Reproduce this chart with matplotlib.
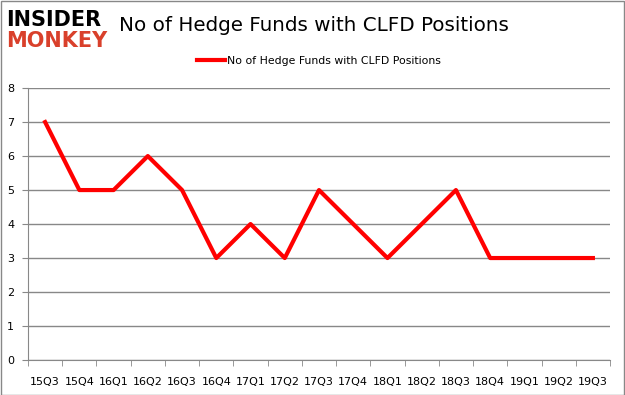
import matplotlib.pyplot as plt
from matplotlib.patches import Rectangle

quarters = ['15Q3', '15Q4', '16Q1', '16Q2', '16Q3', '16Q4', '17Q1', '17Q2', '17Q3',
            '17Q4', '18Q1', '18Q2', '18Q3', '18Q4', '19Q1', '19Q2', '19Q3']
funds = [7, 5, 5, 6, 5, 3, 4, 3, 5, 4, 3, 4, 5, 3, 3, 3, 3]
series_name = 'No of Hedge Funds with CLFD Positions'

fig = plt.figure(figsize=(6.25, 3.95), dpi=100)
ax = fig.add_axes([0.0448, 0.0886, 0.9312, 0.6884])

x = list(range(len(quarters)))
ax.plot(x, funds, color='#ff0000', linewidth=3, label=series_name)

ax.set_xlim(-0.5, len(quarters) - 0.5)
ax.set_ylim(0, 8)
ax.set_yticks(range(0, 9))
ax.set_xticks(x)
ax.set_xticklabels(quarters)
ax.set_xticks([i - 0.5 for i in range(len(quarters) + 1)], minor=True)
ax.tick_params(axis='x', which='major', length=0, pad=12, labelsize=8, colors='black')
ax.tick_params(axis='x', which='minor', length=4, color='#888888')
ax.tick_params(axis='y', length=4, color='#888888', labelsize=8, pad=6)
ax.grid(axis='y', color='#888888', linewidth=1)
ax.set_axisbelow(True)
for side in ['top', 'right']:
    ax.spines[side].set_visible(False)
ax.spines['left'].set_color('#888888')
ax.spines['bottom'].set_color('#888888')

fig.text(0.19, 0.935, series_name, fontsize=14.3, va='center', ha='left',
         family='DejaVu Sans')
fig.text(0.01, 0.95, 'INSIDER', fontsize=15, fontweight='bold', color='black',
         va='center', ha='left')
fig.text(0.01, 0.895, 'MONKEY', fontsize=15, fontweight='bold', color='#d9402b',
         va='center', ha='left')

ax.legend(loc='center', bbox_to_anchor=(0.5, 1.1), frameon=False, fontsize=7.8,
          handlelength=2.6, handletextpad=0.2)

fig.patches.append(Rectangle((0.001, 0.001), 0.997, 0.997, transform=fig.transFigure,
                             fill=False, edgecolor='#888888', linewidth=1))

fig.savefig('out.png', dpi=100)
